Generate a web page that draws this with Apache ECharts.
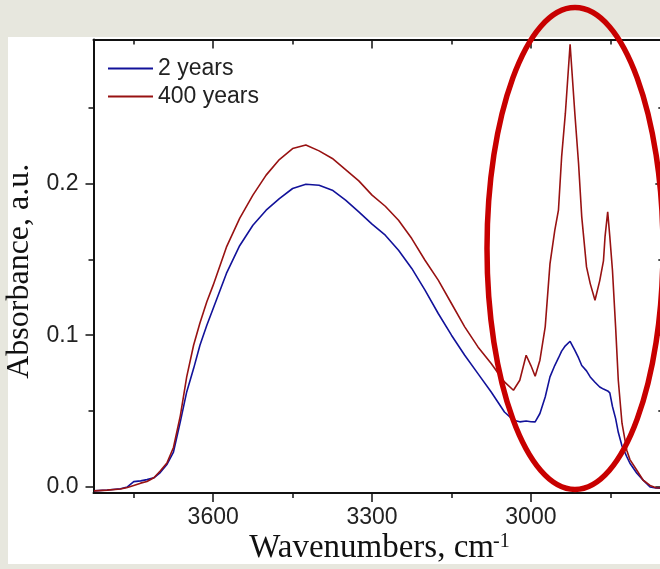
<!DOCTYPE html>
<html>
<head>
<meta charset="utf-8">
<script src="https://cdn.jsdelivr.net/npm/echarts@6/dist/echarts.min.js"></script>
<style>
    html, body { margin: 0; padding: 0; background: #e7e7de; }
    #chart { width: 660px; height: 569px; }
</style>
</head>
<body>
<div id="chart"></div>
<script>
// wavenumbers, cm-1
var wavenumbers = [3825, 3800, 3775, 3762, 3750, 3737, 3725, 3712, 3700, 3687, 3675, 3662, 3650, 3637, 3625, 3612,
    3600, 3575, 3550, 3525, 3500, 3475, 3450, 3425, 3400, 3375, 3350, 3325, 3300, 3275, 3250, 3225, 3200, 3175,
    3150, 3125, 3100, 3075, 3050, 3033, 3021, 3009, 3000, 2992, 2983, 2973, 2964, 2955, 2948, 2942, 2935, 2926,
    2917, 2910, 2904, 2895, 2888, 2879, 2870, 2863, 2860, 2855, 2851, 2846, 2840, 2835, 2828, 2819, 2813, 2800,
    2788, 2775, 2764, 2750];

var years2 = [-0.0026, -0.0020, -0.0012, 0.0000, 0.0035, 0.0040, 0.0048, 0.0060, 0.0095, 0.0150, 0.0230, 0.0430,
    0.0626, 0.0780, 0.0934, 0.1066, 0.1176, 0.1407, 0.1590, 0.1725, 0.1824, 0.1900, 0.1967, 0.1995, 0.1988, 0.1956,
    0.1890, 0.1813, 0.1732, 0.1659, 0.1560, 0.1440, 0.1297, 0.1143, 0.1000, 0.0868, 0.0747, 0.0626, 0.0494, 0.0440,
    0.0429, 0.0435, 0.0430, 0.0429, 0.0484, 0.0593, 0.0725, 0.0800, 0.0850, 0.0895, 0.0930, 0.0960, 0.0900, 0.0850,
    0.0800, 0.0765, 0.0725, 0.0690, 0.0659, 0.0645, 0.0640, 0.0633, 0.0620, 0.0530, 0.0450, 0.0360, 0.0270, 0.0200,
    0.0156, 0.0090, 0.0045, 0.0000, -0.0007, -0.0008];

var years400 = [-0.0026, -0.0021, -0.0014, -0.0004, 0.0010, 0.0025, 0.0036, 0.0060, 0.0105, 0.0160, 0.0260, 0.0470,
    0.0725, 0.0934, 0.1080, 0.1220, 0.1330, 0.1580, 0.1770, 0.1923, 0.2055, 0.2158, 0.2230, 0.2253, 0.2215, 0.2165,
    0.2092, 0.2017, 0.1923, 0.1850, 0.1758, 0.1637, 0.1494, 0.1363, 0.1209, 0.1055, 0.0923, 0.0813, 0.0692, 0.0637,
    0.0703, 0.0868, 0.0800, 0.0730, 0.0835, 0.1055, 0.1470, 0.1690, 0.1824, 0.2175, 0.2460, 0.2918, 0.2460, 0.2130,
    0.1780, 0.1450, 0.1340, 0.1230, 0.1360, 0.1490, 0.1650, 0.1813, 0.1650, 0.1428, 0.1050, 0.0703, 0.0420, 0.0242,
    0.0180, 0.0110, 0.0044, 0.0010, -0.0005, -0.0008];

var xMajor = [3600, 3300, 3000];
var xMinor = [3750, 3450, 3150, 2850];
var yMajor = [0, 0.1, 0.2];
var yMinor = [0.05, 0.15, 0.25];

function pairs(xs, ys) {
    var out = [];
    for (var i = 0; i < xs.length; i++) {
        out.push([xs[i], ys[i]]);
    }
    return out;
}

var sans = '"Liberation Sans", Arial, sans-serif';
var serif = '"Liberation Serif", "Times New Roman", serif';
var black = '#111';

// one axis per tick set (major / minor) and per side of the frame
function xAxisDef(position, ticks, len, inside, labels, withLine) {
    return {
        type: 'value', min: 2750, max: 3826, inverse: true, position: position,
        axisLine: { show: withLine, onZero: false, lineStyle: { color: black, width: 2 } },
        axisTick: { show: true, inside: inside, length: len, customValues: ticks, lineStyle: { color: black, width: 1.5 } },
        axisLabel: {
            show: labels, customValues: ticks, color: '#222', fontFamily: sans, fontSize: 23, margin: 13,
            formatter: function (v) { return String(v); }
        },
        splitLine: { show: false }
    };
}

function yAxisDef(position, ticks, len, inside, labels, withLine) {
    return {
        type: 'value', min: -0.004, max: 0.2949, position: position,
        axisLine: { show: withLine, onZero: false, lineStyle: { color: black, width: 2 } },
        axisTick: { show: true, inside: inside, length: len, customValues: ticks, lineStyle: { color: black, width: 1.5 } },
        axisLabel: {
            show: labels, customValues: ticks, color: '#222', fontFamily: sans, fontSize: 23, margin: 15,
            formatter: function (v) { return v.toFixed(1); }
        },
        splitLine: { show: false }
    };
}

var chart = echarts.init(document.getElementById('chart'));

var yLeft = yAxisDef('left', yMajor, 8, false, true, true);
yLeft.name = 'Absorbance, a.u.';
yLeft.nameLocation = 'middle';
yLeft.nameGap = 56;
yLeft.nameTextStyle = { fontFamily: serif, fontSize: 32, color: '#111', padding: [0, 10, 0, 0] };

var option = {
    animation: false,
    backgroundColor: 'transparent',
    grid: { left: 93.5, top: 39.5, width: 569.8, height: 453.5, containLabel: false, outerBoundsMode: 'none' },
    graphic: [
        { type: 'rect', z: -10, shape: { x: 8, y: 37, width: 660, height: 527 }, style: { fill: '#ffffff' } },
        {
            type: 'ellipse', z: 100, shape: { cx: 575, cy: 248.5, rx: 88, ry: 241 },
            style: { fill: 'none', stroke: '#c80000', lineWidth: 5.5 }
        },
        // x axis title with its superscript
        {
            type: 'text', x: 494, y: 548.5,
            style: { text: 'Wavenumbers, cm', font: '33px ' + serif, fill: '#111', align: 'right', verticalAlign: 'middle' }
        },
        {
            type: 'text', x: 493, y: 542,
            style: { text: '-1', font: '20px ' + serif, fill: '#111', align: 'left', verticalAlign: 'middle' }
        }
    ],
    legend: {
        orient: 'vertical', left: 103, top: 52, itemWidth: 45, itemHeight: 2, itemGap: 5, icon: 'rect',
        textStyle: { fontFamily: sans, fontSize: 23, lineHeight: 23, color: '#222' },
        data: ['2 years', '400 years']
    },
    xAxis: [
        xAxisDef('bottom', xMajor, 9, false, true, true),
        xAxisDef('bottom', xMinor, 5, false, false, false),
        xAxisDef('top', xMajor, 9, true, false, true),
        xAxisDef('top', xMinor, 5, true, false, false)
    ],
    yAxis: [
        yLeft,
        yAxisDef('left', yMinor, 5, false, false, false),
        yAxisDef('right', yMajor, 8, true, false, true),
        yAxisDef('right', yMinor, 5, true, false, false)
    ],
    series: [
        {
            name: '2 years', type: 'line', xAxisIndex: 0, yAxisIndex: 0, showSymbol: false,
            lineStyle: { color: '#12129a', width: 1.6 }, itemStyle: { color: '#12129a' },
            data: pairs(wavenumbers, years2)
        },
        {
            name: '400 years', type: 'line', xAxisIndex: 0, yAxisIndex: 0, showSymbol: false,
            lineStyle: { color: '#981212', width: 1.6 }, itemStyle: { color: '#981212' },
            data: pairs(wavenumbers, years400)
        }
    ]
};

chart.setOption(option);
</script>
</body>
</html>
